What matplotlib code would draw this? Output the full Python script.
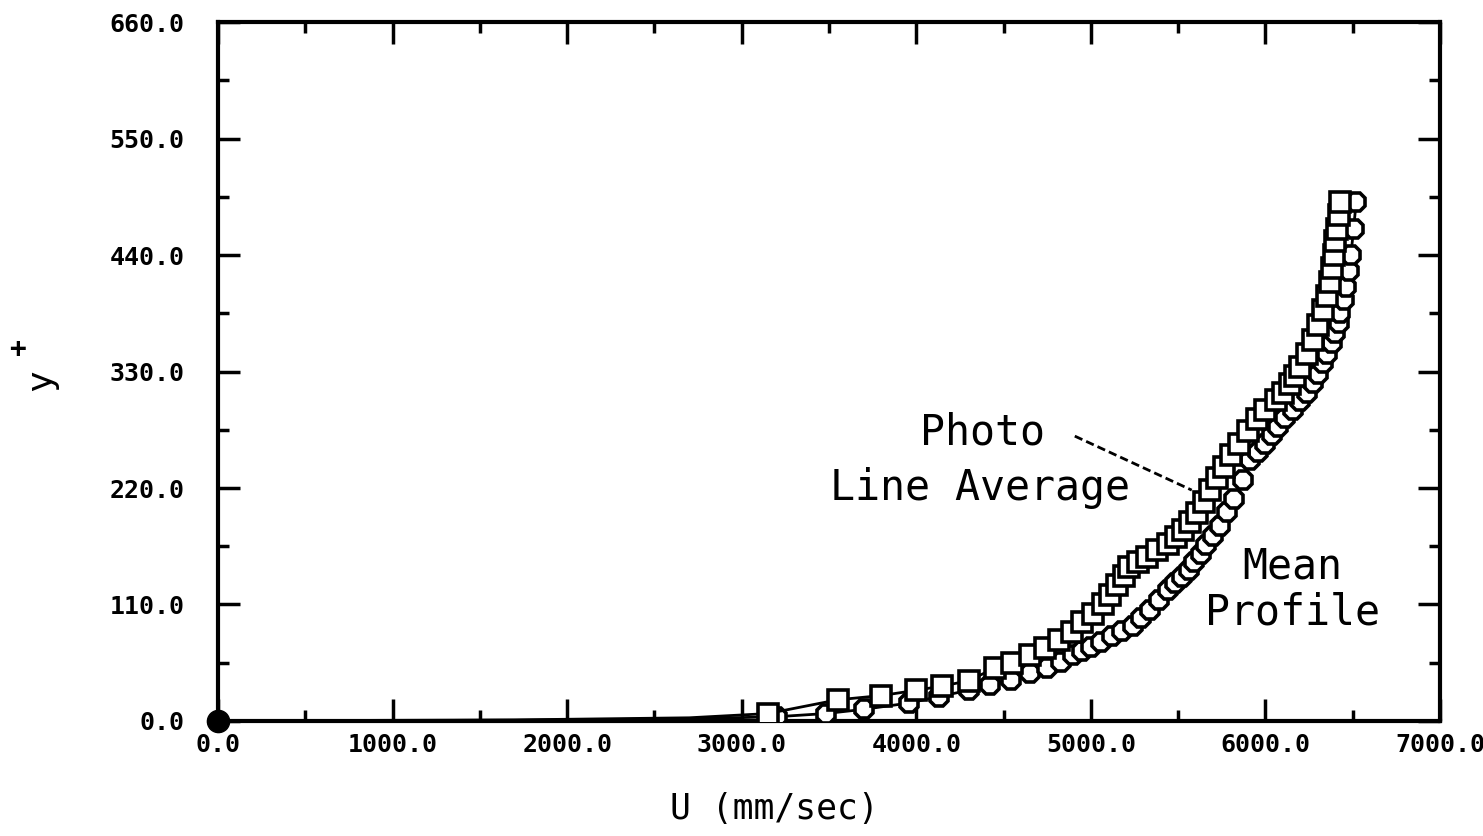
import matplotlib
matplotlib.use("Agg")
import matplotlib.pyplot as plt
from matplotlib.ticker import MultipleLocator, FormatStrFormatter

# ---- data ----
u_photo = [0, 800, 1700, 2700, 3150, 3550, 3800, 4000, 4150, 4300,
           4450, 4550, 4650, 4740, 4820, 4890, 4950, 5010, 5070, 5110,
           5150, 5190, 5220, 5270, 5320, 5380, 5440, 5490, 5530, 5570,
           5610, 5650, 5680, 5720, 5760, 5800, 5850, 5900, 5950, 6000,
           6060, 6100, 6140, 6170, 6200, 6240, 6270, 6300, 6330, 6350,
           6370, 6380, 6390, 6400, 6410, 6420, 6430]
y_photo = [0, 0.5, 1, 3, 7, 20, 24, 29, 33, 38,
           50, 55, 62, 69, 76, 84, 93, 101, 110, 119,
           128, 137, 145, 150, 155, 161, 167, 174, 180, 188,
           196, 207, 218, 229, 240, 251, 262, 274, 285, 294,
           303, 310, 318, 326, 334, 347, 360, 374, 388, 401,
           415, 428, 440, 453, 465, 478, 490]

u_mean = [0, 800, 1700, 2700, 3200, 3480, 3700, 3960, 4130, 4300,
          4420, 4540, 4650, 4750, 4830, 4900, 4950, 5000, 5060, 5120,
          5180, 5240, 5290, 5340, 5390, 5440, 5480, 5520, 5560, 5590,
          5630, 5660, 5700, 5740, 5780, 5820, 5870, 5910, 5960, 6000,
          6040, 6070, 6110, 6160, 6200, 6240, 6270, 6300, 6330, 6350,
          6380, 6400, 6420, 6430, 6450, 6460, 6480, 6490, 6505, 6520]
y_mean = [0, 0.3, 0.7, 2, 4, 7, 11, 17, 23, 29,
          34, 39, 45, 50, 56, 62, 66, 70, 75, 80,
          85, 90, 97, 105, 114, 124, 130, 136, 143, 150,
          158, 166, 175, 184, 197, 210, 228, 246, 254, 262,
          270, 278, 286, 294, 302, 310, 319, 328, 338, 347,
          357, 366, 376, 385, 398, 410, 425, 440, 465, 490]

x_ticks = [0, 1000, 2000, 3000, 4000, 5000, 6000, 7000]
y_ticks = [0, 110, 220, 330, 440, 550, 660]

fig = plt.figure(figsize=(14.83, 8.36), dpi=100)
ax = fig.add_axes([0.147, 0.1376, 0.824, 0.836])

ax.plot(u_mean, y_mean, color="black", lw=2.0, marker="8", ms=14,
        mfc="white", mec="black", mew=2.6, zorder=3,
        markevery=list(range(4, len(u_mean))))
ax.plot(u_photo, y_photo, color="black", lw=2.0, marker="s", ms=14,
        mfc="white", mec="black", mew=2.6, zorder=4,
        markevery=list(range(4, len(u_photo))))
ax.plot([0], [0], marker="o", ms=16, color="black", zorder=5, clip_on=False)

ax.set_xlim(0, 7000)
ax.set_ylim(0, 660)
ax.set_xticks(x_ticks)
ax.set_yticks(y_ticks)
ax.xaxis.set_minor_locator(MultipleLocator(500))
ax.yaxis.set_minor_locator(MultipleLocator(55))
ax.xaxis.set_major_formatter(FormatStrFormatter("%.1f"))
ax.yaxis.set_major_formatter(FormatStrFormatter("%.1f"))

ax.tick_params(which="both", direction="in", top=True, right=True, width=2.5,
               labelsize=18)
ax.tick_params(axis="y", pad=24)
ax.tick_params(axis="x", pad=9)
ax.tick_params(which="major", length=16)
ax.tick_params(which="minor", length=8)
for lab in ax.get_xticklabels() + ax.get_yticklabels():
    lab.set_fontweight("bold")
    lab.set_family("DejaVu Sans Mono")
for sp in ax.spines.values():
    sp.set_linewidth(3)

mono = "DejaVu Sans Mono"
ax.text(4021, 261, "Photo", fontsize=30, family=mono, ha="left", va="baseline")
ax.text(3505, 209, "Line Average", fontsize=30, family=mono, ha="left", va="baseline")
ax.text(5870, 135, "Mean", fontsize=30, family=mono, ha="left", va="baseline")
ax.text(5653, 91, "Profile", fontsize=30, family=mono, ha="left", va="baseline")
ax.plot([4908, 5578], [269, 218], color="black", lw=2, ls=(0, (3, 1.5)), zorder=6)

fig.text(0.522, 0.012, "U (mm/sec)", fontsize=25, family=mono, ha="center", va="bottom")
fig.text(0.028, 0.545, "y", fontsize=26, family=mono, rotation=90, ha="center", va="center")
fig.text(0.012, 0.582, "+", fontsize=20, family=mono, fontweight="bold", ha="center", va="center")

fig.savefig("out.png", dpi=100)
